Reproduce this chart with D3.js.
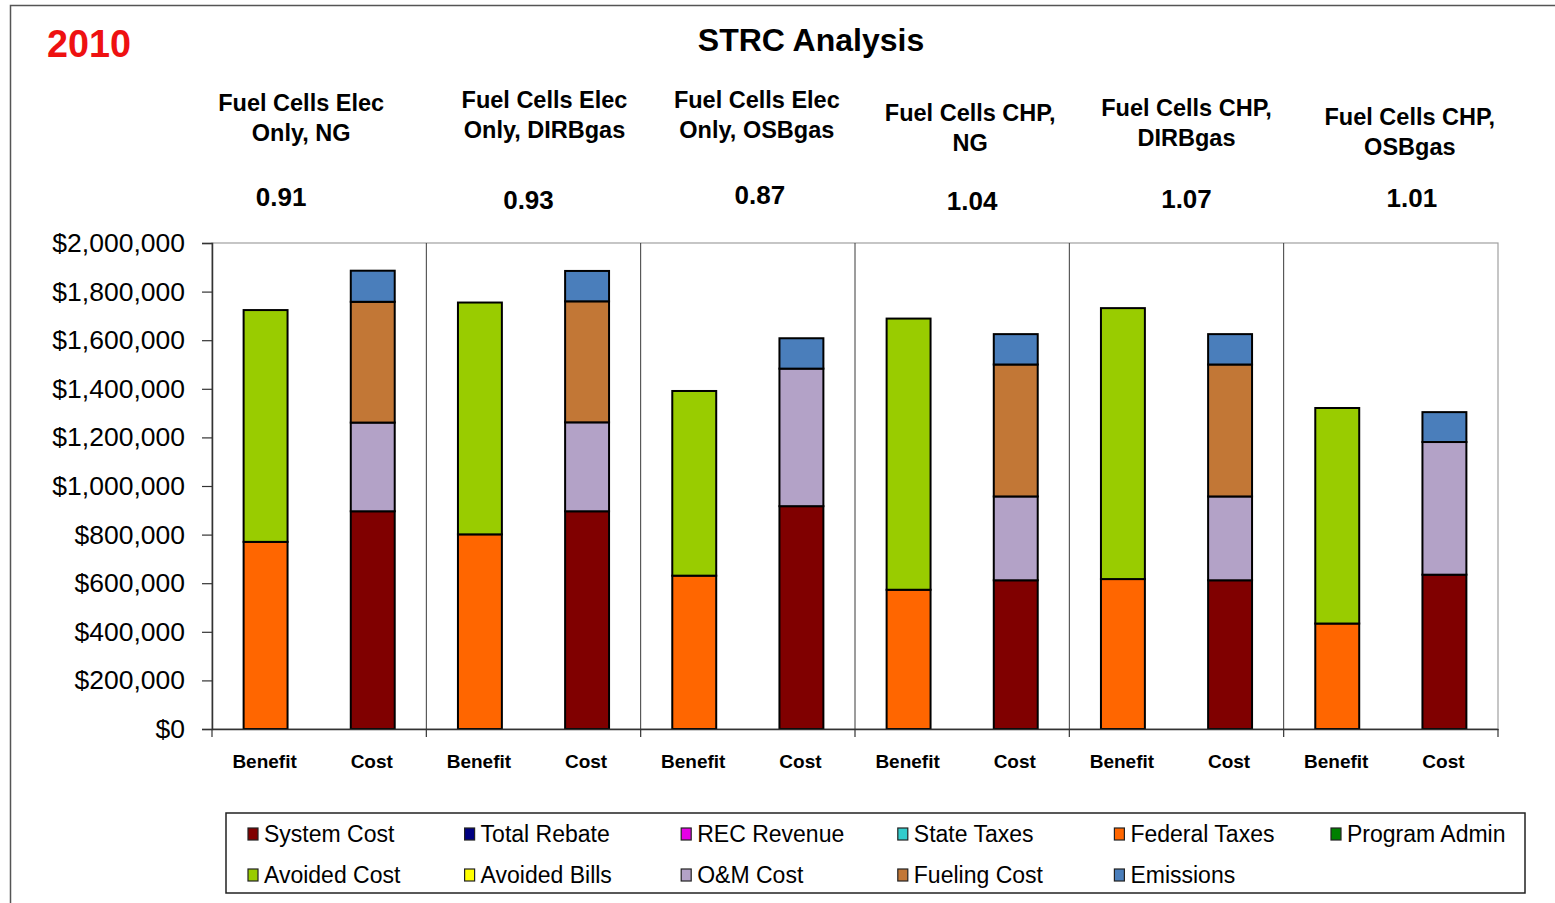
<!DOCTYPE html>
<html><head><meta charset="utf-8">
<script src="https://cdn.jsdelivr.net/npm/d3@7"></script>
<style>body{margin:0;background:#fff;} svg{display:block;font-family:"Liberation Sans",Arial,sans-serif;}</style>
</head><body>
<svg id="chart" width="1555" height="903"></svg>
<script>
// ---------- data ----------
const yearLabel = "2010";
const chartTitle = "STRC Analysis";
const groupTitles = [
  ["Fuel Cells Elec", "Only, NG"],
  ["Fuel Cells Elec", "Only, DIRBgas"],
  ["Fuel Cells Elec", "Only, OSBgas"],
  ["Fuel Cells CHP,", "NG"],
  ["Fuel Cells CHP,", "DIRBgas"],
  ["Fuel Cells CHP,", "OSBgas"]
];
const bcRatios = ["0.91", "0.93", "0.87", "1.04", "1.07", "1.01"];
const barTypes = ["Benefit", "Cost"];
const seriesNames = ["System Cost", "Total Rebate", "REC Revenue", "State Taxes", "Federal Taxes", "Program Admin",
                     "Avoided Cost", "Avoided Bills", "O&M Cost", "Fueling Cost", "Emissions"];
const seriesColors = ["#800000", "#000080", "#e600e6", "#33cccc", "#ff6600", "#008000",
                      "#99cc00", "#ffff00", "#b3a2c7", "#c27736", "#4a7ebb"];
// values per bar, in order: G1 Benefit, G1 Cost, G2 Benefit, G2 Cost, ...
const systemCost   = [0, 896000, 0, 896000, 0, 917000, 0, 612000, 0, 612000, 0, 635000];
const totalRebate  = [0, 0, 0, 0, 0, 0, 0, 0, 0, 0, 0, 0];
const recRevenue   = [0, 0, 0, 0, 0, 0, 0, 0, 0, 0, 0, 0];
const stateTaxes   = [0, 0, 0, 0, 0, 0, 0, 0, 0, 0, 0, 0];
const federalTaxes = [770000, 0, 801000, 0, 631000, 0, 573000, 0, 617000, 0, 434000, 0];
const programAdmin = [0, 0, 0, 0, 0, 0, 0, 0, 0, 0, 0, 0];
const avoidedCost  = [954000, 0, 954000, 0, 760000, 0, 1116000, 0, 1115000, 0, 887000, 0];
const avoidedBills = [0, 0, 0, 0, 0, 0, 0, 0, 0, 0, 0, 0];
const omCost       = [0, 365000, 0, 366000, 0, 566000, 0, 345000, 0, 345000, 0, 546000];
const fuelingCost  = [0, 497000, 0, 498000, 0, 0, 0, 543000, 0, 543000, 0, 0];
const emissions    = [0, 128000, 0, 125000, 0, 125000, 0, 125000, 0, 125000, 0, 123000];
const yTicks = [0, 200000, 400000, 600000, 800000, 1000000, 1200000, 1400000, 1600000, 1800000, 2000000];

// ---------- layout (not data) ----------
const seriesValues = [systemCost, totalRebate, recRevenue, stateTaxes, federalTaxes, programAdmin,
                      avoidedCost, avoidedBills, omCost, fuelingCost, emissions];
const titleDx = [-18, 11, 9, 8, 10, 19];
const titleBase = [111, 108, 108, 121, 116, 125];
const ratioDx = [-38, -5, 12, 10, 10, 21];
const ratioBase = [206, 209, 204, 210, 208, 207];

const svg = d3.select("#chart");
const plot = {left: 212, right: 1498, top: 243, bottom: 729};

// outer frame
svg.append("rect").attr("x", 10.5).attr("y", 5.5).attr("width", 1600).attr("height", 1000)
  .attr("fill", "none").attr("stroke", "#555").attr("stroke-width", 1.5);

// rows for the bars
const barKeys = [];
groupTitles.forEach((g, gi) => barTypes.forEach(t => barKeys.push(gi + "|" + t)));
const rows = barKeys.map((k, i) => {
  const r = {key: k};
  seriesNames.forEach((s, si) => r[s] = seriesValues[si][i]);
  return r;
});

const x = d3.scaleBand().domain(barKeys).range([plot.left, plot.right]).paddingInner(0.59).paddingOuter(0.295);
const xg = d3.scaleBand().domain(d3.range(groupTitles.length)).range([plot.left, plot.right]).padding(0);
const y = d3.scaleLinear().domain([0, 2000000]).range([plot.bottom, plot.top]);

// plot border
svg.append("rect").attr("x", plot.left).attr("y", plot.top)
  .attr("width", plot.right - plot.left).attr("height", plot.bottom - plot.top)
  .attr("fill", "none").attr("stroke", "#a0a0a0").attr("stroke-width", 1.2);

// group divider lines
svg.append("g").selectAll("line").data(d3.range(1, groupTitles.length)).join("line")
  .attr("x1", d => xg(d)).attr("x2", d => xg(d))
  .attr("y1", plot.top).attr("y2", plot.bottom)
  .attr("stroke", "#3a3a3a").attr("stroke-width", 1);

// stacked bars
const stack = d3.stack().keys(seriesNames);
const stacked = stack(rows);
const layers = svg.append("g").selectAll("g").data(stacked).join("g")
  .attr("fill", (d, i) => seriesColors[i]);
layers.selectAll("rect").data(d => d.filter(p => p[1] - p[0] > 0)).join("rect")
  .attr("x", d => x(d.data.key))
  .attr("width", x.bandwidth())
  .attr("y", d => y(d[1]))
  .attr("height", d => y(d[0]) - y(d[1]))
  .attr("stroke", "#000").attr("stroke-width", 2);

// y axis
const yAxis = d3.axisLeft(y).tickValues(yTicks).tickSize(10).tickPadding(17).tickFormat(d3.format("$,.0f"));
const gy = svg.append("g").attr("transform", `translate(${plot.left},0)`).call(yAxis);
gy.select(".domain").attr("stroke", "#333").attr("stroke-width", 1.5);
gy.selectAll(".tick line").attr("stroke", "#333").attr("stroke-width", 1.2);
gy.selectAll("text").attr("font-size", 26.5).attr("fill", "#000")
  .attr("font-family", "'Liberation Sans',Arial,sans-serif");

// x axis
const xAxis = d3.axisBottom(x).tickSize(0).tickPadding(26).tickFormat(k => k.split("|")[1]);
const gx = svg.append("g").attr("transform", `translate(0,${plot.bottom})`).call(xAxis);
gx.select(".domain").attr("stroke", "#333").attr("stroke-width", 1.5);
gx.selectAll("text").attr("font-size", 19).attr("font-weight", "bold").attr("fill", "#000")
  .attr("font-family", "'Liberation Sans',Arial,sans-serif");
gx.selectAll(".tick").attr("transform", d => `translate(${x(d) + x.bandwidth() / 2 - 1},0)`);
svg.append("g").selectAll("line").data(d3.range(0, groupTitles.length + 1)).join("line")
  .attr("x1", d => d < groupTitles.length ? xg(d) : plot.right)
  .attr("x2", d => d < groupTitles.length ? xg(d) : plot.right)
  .attr("y1", plot.bottom).attr("y2", plot.bottom + 8)
  .attr("stroke", "#333").attr("stroke-width", 1.2);

// titles
svg.append("text").attr("x", 47).attr("y", 57).attr("font-size", 39).attr("font-weight", "bold")
  .attr("fill", "#ee1111").attr("textLength", 84).attr("lengthAdjust", "spacingAndGlyphs").text(yearLabel);
svg.append("text").attr("x", 811).attr("y", 51).attr("font-size", 32).attr("font-weight", "bold")
  .attr("text-anchor", "middle").attr("fill", "#000").text(chartTitle);

// group titles
groupTitles.forEach((lines, gi) => {
  const cx = xg(gi) + xg.bandwidth() / 2 + titleDx[gi];
  lines.forEach((ln, li) => {
    svg.append("text").attr("x", cx).attr("y", titleBase[gi] + li * 30)
      .attr("text-anchor", "middle").attr("font-size", 23.5).attr("font-weight", "bold")
      .attr("fill", "#000").text(ln);
  });
  svg.append("text").attr("x", xg(gi) + xg.bandwidth() / 2 + ratioDx[gi]).attr("y", ratioBase[gi])
    .attr("text-anchor", "middle").attr("font-size", 26).attr("font-weight", "bold")
    .attr("fill", "#000").text(bcRatios[gi]);
});

// legend
const lg = svg.append("g");
lg.append("rect").attr("x", 226).attr("y", 813).attr("width", 1299).attr("height", 80)
  .attr("fill", "#fff").attr("stroke", "#222").attr("stroke-width", 1.5);
const legendCols = 6;
const legendX = d3.scaleLinear().domain([0, 1]).range([248, 464.6]);
const legendY = d3.scaleLinear().domain([0, 1]).range([834, 875]);
const items = lg.selectAll("g.item").data(seriesNames).join("g").attr("class", "item")
  .attr("transform", (d, i) => `translate(${legendX(i % legendCols)},${legendY(Math.floor(i / legendCols))})`);
items.append("rect").attr("x", 0).attr("y", -6).attr("width", 10).attr("height", 12)
  .attr("fill", (d, i) => seriesColors[i]).attr("stroke", "#222").attr("stroke-width", 1.2);
items.append("text").attr("x", 16).attr("y", 0).attr("dy", "0.36em")
  .attr("font-size", 23).attr("fill", "#000").text(d => d);
</script>
</body></html>
